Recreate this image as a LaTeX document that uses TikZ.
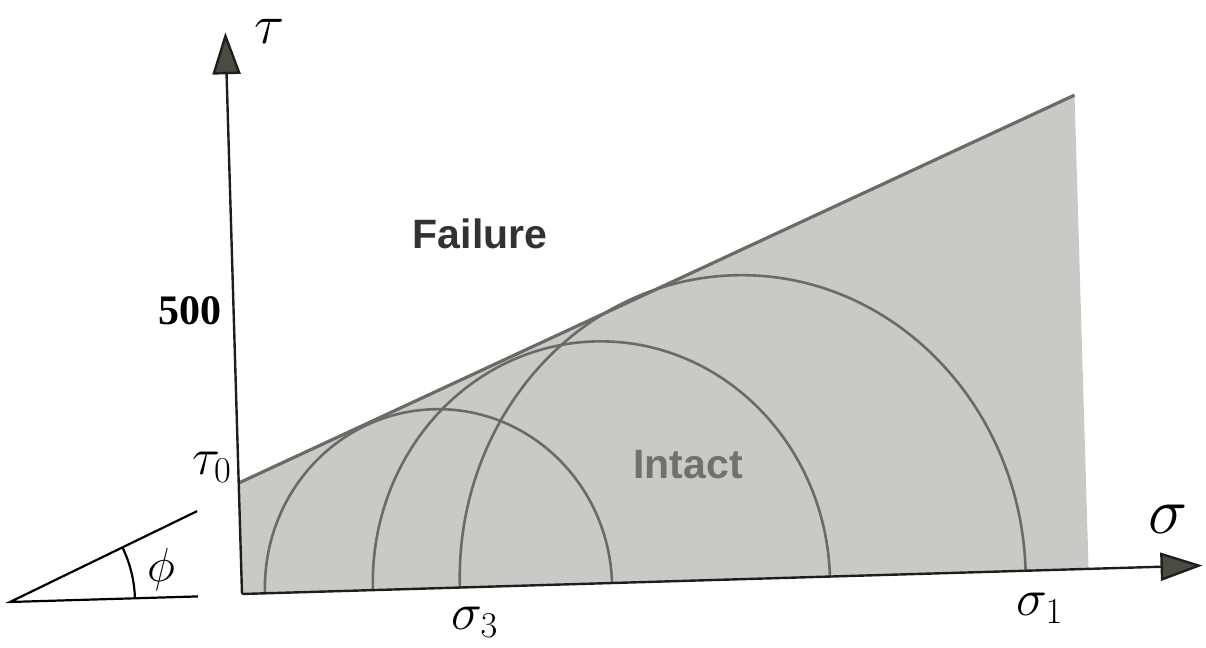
\RequirePackage{fix-cm}
\documentclass[tikz,border=0pt]{standalone}
\usepackage{fontspec}
\setsansfont{Liberation Sans}
\newfontfamily\numfont{Liberation Serif}
\usetikzlibrary{arrows.meta}
\definecolor{shadec}{RGB}{201,201,198}
\definecolor{curvec}{RGB}{104,108,102}
\definecolor{tipfill}{RGB}{75,75,65}
\definecolor{axisc}{RGB}{30,30,30}
\definecolor{failtxt}{RGB}{50,50,50}
\definecolor{intxt}{RGB}{112,112,110}
\begin{document}
\begin{tikzpicture}[x=0.5pt,y=0.5pt,
  axisline/.style={draw=axisc,line width=1.2pt,-{Triangle[length=21pt,width=14pt,fill=tipfill]}},
  arcline/.style={draw=curvec,line width=1.3pt},
  failline/.style={draw=curvec,line width=1.6pt},
  angleline/.style={draw=black,line width=1.1pt},
  biglabel/.style={inner sep=0pt,font=\fontsize{33}{36}\selectfont},
  smalllabel/.style={inner sep=0pt,font=\fontsize{26}{30}\selectfont},
  wordlabel/.style={inner sep=0pt,font=\sffamily\bfseries\fontsize{20.5}{24}\selectfont}]
\useasboundingbox (0,0) rectangle (1206,648);

\begin{scope}[shift={(242,54)},rotate=1.7]
  \coordinate (O) at (0,0);
  \coordinate (T0) at (0,111);
  \coordinate (F) at (847,474);
  \coordinate (R) at (847,0);
  \coordinate (xtip) at (961,0);
  \coordinate (ytip) at (0,562);
  \coordinate (c1) at (23,0);
  \coordinate (c2) at (131,0);
  \coordinate (c3) at (218,0);
  \fill[shadec] (O) -- (T0) -- (F) -- (R) -- cycle;
  \draw[arcline] (c1) arc[start angle=180,end angle=0,x radius=173.6,y radius=179];
  \draw[arcline] (c2) arc[start angle=180,end angle=0,x radius=228.6,y radius=242];
  \draw[arcline] (c3) arc[start angle=180,end angle=0,x radius=283,y radius=304];
  \draw[failline] (T0) -- (F);
  \draw[axisline] (O) -- (xtip);
  \draw[axisline] (O) -- (ytip);
\end{scope}

\begin{scope}[shift={(10,46)},rotate=1.7]
  \coordinate (V) at (0,0);
  \coordinate (H) at (188,0);
  \coordinate (S) at (24.2:208);
  \draw[angleline] (H) -- (V) -- (S);
  \draw[angleline] (125,0) arc[start angle=0,end angle=24.2,radius=125];
\end{scope}

\node[inner sep=0pt,font=\fontsize{28}{32}\selectfont] (tau) at (270,617) {$\tau$};
\node[biglabel] (sigma) at (1168,129) {$\sigma$};
\node[smalllabel] (tau0) at (212,181) {$\tau_0$};
\node[smalllabel] (sig3) at (475,26) {$\sigma_3$};
\node[smalllabel] (sig1) at (1040,40) {$\sigma_1$};
\node[inner sep=0pt,font=\fontsize{24}{28}\selectfont] (phi) at (161,78) {$\phi$};
\node[inner sep=0pt,font=\numfont\bfseries\fontsize{21}{24}\selectfont] (n500) at (190,337) {500};
\node[wordlabel,text=failtxt] (fail) at (480,414) {Failure};
\node[wordlabel,text=intxt] (intact) at (688,183) {Intact};
\end{tikzpicture}
\end{document}
